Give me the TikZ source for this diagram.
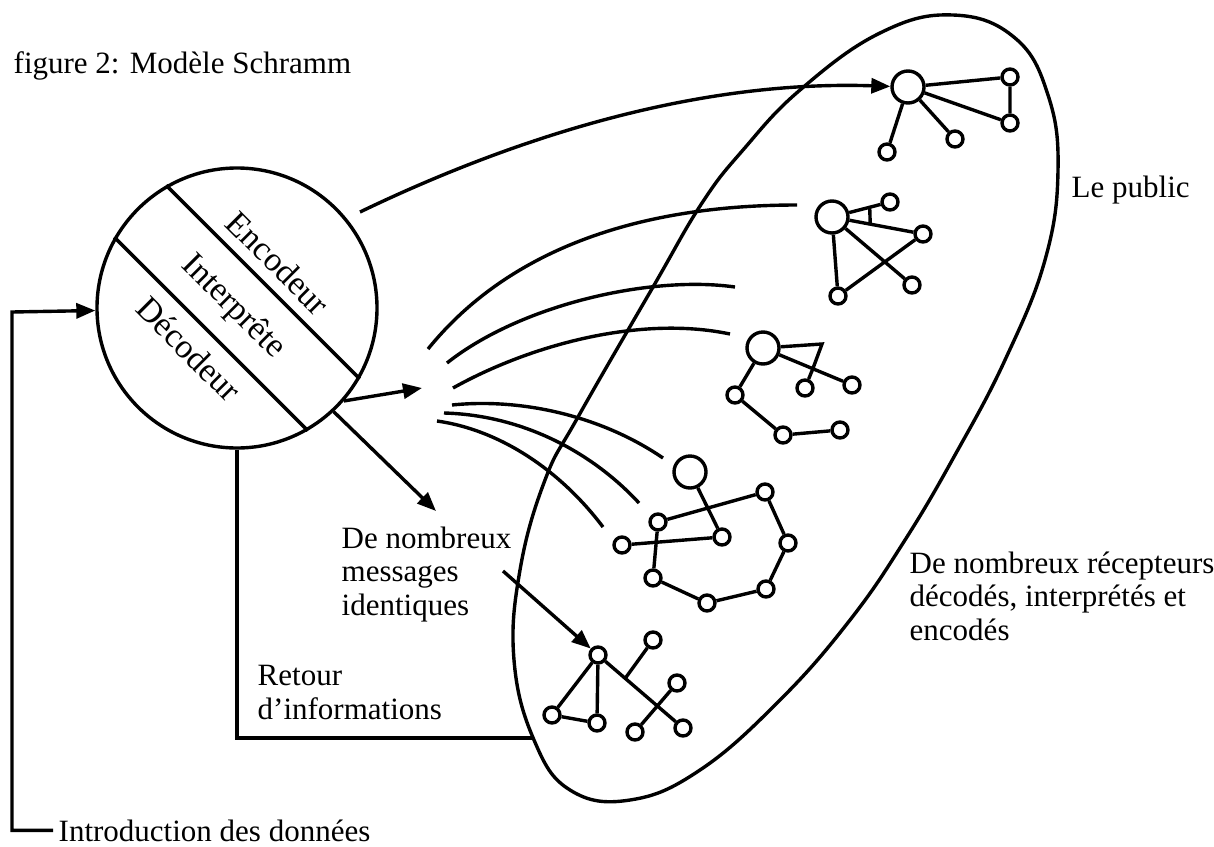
\documentclass[tikz,border=0pt]{standalone}
\usepackage{fontspec}
\setmainfont{Liberation Serif}
\usetikzlibrary{arrows.meta,calc}

\begin{document}
\begin{tikzpicture}[
  x=1pt, y=-1pt,
  line width=3.4pt,
  every node/.style={font=\fontsize{31}{33.5}\selectfont},
  label text/.style={anchor=base west, align=left, inner sep=0pt},
  role text/.style={rotate=-45, inner sep=0pt, font=\fontsize{34}{36}\selectfont},
  big dot/.style={circle, draw, minimum size=32pt, inner sep=0pt},
  small dot/.style={circle, draw, minimum size=16pt, inner sep=0pt},
  to tip/.style={-{Triangle[length=19pt,width=15pt]}},
  ]
  \useasboundingbox (0,0) rectangle (1214,846);

  % the source
  \node[circle, draw, minimum size=280pt, inner sep=0pt] (schramm) at (237,308) {};
  \draw (schramm.120) -- (schramm.-30);
  \draw (schramm.150) -- (schramm.-60);
  \node[role text] (encodeur) at (278,263) {Encodeur};
  \node[role text] (interprete) at (233,307) {Interprête};
  \node[role text] (decodeur) at (189,349) {Décodeur};

  % the public
  \draw plot[smooth cycle, tension=0.7] coordinates {
    (953,15) (1015,38) (1048,95) (1058,170) (1045,260) (1005,360)
    (955,455) (905,540) (850,620) (780,700) (700,770) (630,800)
    (570,790) (534,740) (514,660) (520,570) (545,480) (578,417)
    (653,287) (702,203) (743,150) (800,90) (880,33)};

  % receivers
  \node[big dot] (ca) at (908,87) {};
  \node[small dot] (ca1) at (1010,77) {};
  \node[small dot] (ca2) at (1010,123) {};
  \node[small dot] (ca3) at (955,139) {};
  \node[small dot] (ca4) at (887,152) {};
  \draw (ca) -- (ca1) -- (ca2) -- (ca) (ca) -- (ca3) (ca) -- (ca4);

  \node[big dot] (cb) at (832,217) {};
  \node[small dot] (cb1) at (890,202) {};
  \node[small dot] (cb2) at (923,234) {};
  \node[small dot] (cb3) at (912,285) {};
  \node[small dot] (cb4) at (838,296) {};
  \draw (cb) -- (cb1) (cb) -- (cb2) (cb) -- (cb3) (cb) -- (cb4) -- (cb2);
  \draw ($(cb)!0.65!(cb1)$) -- ($(cb)!0.42!(cb2)$);

  \node[big dot] (cc) at (763,348) {};
  \node[small dot] (cc1) at (805,388) {};
  \node[small dot] (cc2) at (852,385) {};
  \node[small dot] (cc3) at (735,395) {};
  \node[small dot] (cc4) at (783,435) {};
  \node[small dot] (cc5) at (840,430) {};
  \coordinate (cccorner) at (822,344);
  \draw (cc) -- (cc2) (cc) -- (cccorner) -- ($(cc)!0.56!(cc2)$) -- (cc1);
  \draw (cc) -- (cc3) -- (cc4) -- (cc5);

  \node[big dot] (cd) at (690,472) {};
  \node[small dot] (cd1) at (658,522) {};
  \node[small dot] (cd2) at (622,545) {};
  \node[small dot] (cd3) at (722,537) {};
  \node[small dot] (cd4) at (765,492) {};
  \node[small dot] (cd5) at (788,543) {};
  \node[small dot] (cd6) at (766,589) {};
  \node[small dot] (cd7) at (707,603) {};
  \node[small dot] (cd8) at (653,578) {};
  \draw (cd) -- (cd3) (cd1) -- (cd4) (cd2) -- (cd3);
  \draw (cd1) -- (cd8) -- (cd7) -- (cd6) -- (cd5) -- (cd4);

  \node[small dot] (ce1) at (598,655) {};
  \node[small dot] (ce2) at (653,640) {};
  \node[small dot] (ce3) at (552,715) {};
  \node[small dot] (ce4) at (597,723) {};
  \node[small dot] (ce5) at (677,683) {};
  \node[small dot] (ce6) at (635,732) {};
  \node[small dot] (ce7) at (683,728) {};
  \draw (ce1) -- (ce3) -- (ce4) -- (ce1) -- (ce7);
  \draw ($(ce1)!0.32!(ce7)$) -- (ce2) (ce6) -- (ce5);

  % messages
  \coordinate (encstart) at (360,212);
  \draw[to tip] (encstart) .. controls (520,135) and (700,80) .. (ca);
  \foreach \sx/\sy/\ax/\ay/\bx/\by/\ex/\ey in {
    428/349/500/260/620/205/797/205,
    447/363/520/305/650/275/735/287,
    453/388/530/345/640/315/730/334,
    452/405/520/398/600/415/663/458,
    444/413/520/415/590/450/639/503,
    437/421/500/430/560/470/603/527}
    \draw (\sx,\sy) .. controls (\ax,\ay) and (\bx,\by) .. (\ex,\ey);

  \coordinate (msgtip) at (422,388);
  \coordinate (labeltip) at (436,511);
  \coordinate (recstart) at (503,571);
  \draw[to tip] (schramm.-41) -- (msgtip);
  \draw[to tip] (schramm.-47) -- (labeltip);
  \draw[to tip] (recstart) -- (ce1);

  % texts (base = last line)
  \node[label text] (title) at (12,73) {figure 2: Modèle Schramm};
  \node[label text] (public) at (1070,197) {Le public};
  \node[label text] (recepteurs) at (908,640)
    {De nombreux récepteurs\\décodés, interprétés et\\encodés};
  \node[label text] (messages) at (340,615) {De nombreux\\messages\\identiques};
  \node[label text] (retour) at (256,719) {Retour\\d’informations};
  \node[label text, inner xsep=4pt] (intro) at (53,841) {Introduction des données};

  % feedback
  \coordinate (inbend) at (12,312);
  \coordinate (retend) at (534,738);
  \draw[to tip] (intro.west) -| (inbend) -- (schramm);
  \draw (schramm.south) |- (retend);
\end{tikzpicture}
\end{document}
